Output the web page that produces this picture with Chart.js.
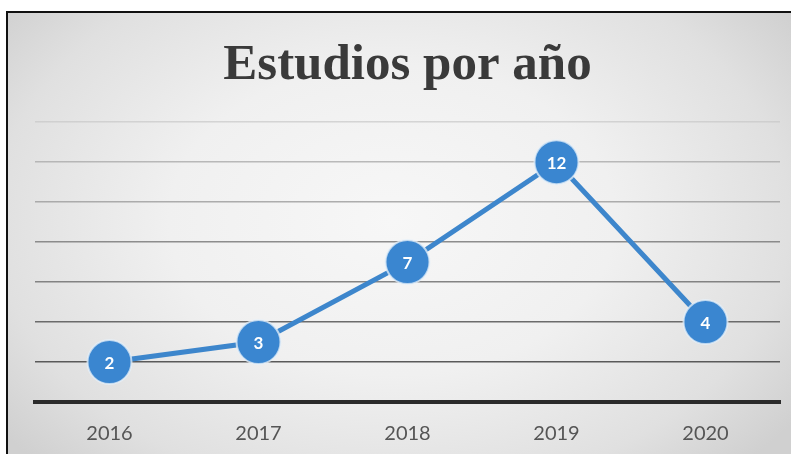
<!DOCTYPE html>
<html>
<head>
<meta charset="utf-8">
<script src="https://cdn.jsdelivr.net/npm/chart.js@4"></script>
<style>
  html, body { margin: 0; padding: 0; background: #fff; }
  #wrap {
    position: relative;
    width: 791px;
    height: 454px;
    overflow: hidden;
    background: #fff;
  }
  #frame {
    position: absolute;
    left: 6px;
    top: 11px;
    width: 800px;
    height: 460px;
    border-left: 2px solid #111;
    border-top: 2px solid #111;
    background: radial-gradient(ellipse 62% 75% at 48% 45%, #f7f7f7 0%, #f0f0f0 45%, #e0e0e0 80%, #d0d0d0 100%);
  }
  canvas { position: absolute; left: 0; top: 0; }
</style>
</head>
<body>
<div id="wrap">
  <div id="frame"></div>
  <canvas id="estudiosChart" width="791" height="454"></canvas>
</div>
<script>
const years = ['2016', '2017', '2018', '2019', '2020'];
const studies = [2, 3, 7, 12, 4];
const yMax = 14;
const yStep = 2;

// grid lines fade toward the top of the plot
const gridShade = {
  14: 'rgba(200,200,200,0.7)',
  12: 'rgba(170,170,170,0.8)',
  10: 'rgba(160,160,160,0.85)',
  8: 'rgba(130,130,130,0.9)',
  6: 'rgba(120,120,120,0.9)',
  4: 'rgba(100,100,100,0.95)',
  2: 'rgba(90,90,90,1)',
  0: 'rgba(0,0,0,0)'
};

// write each value inside its marker
const pointValues = {
  id: 'pointValues',
  afterDatasetsDraw(chart) {
    const ctx = chart.ctx;
    const meta = chart.getDatasetMeta(0);
    ctx.save();
    ctx.fillStyle = '#ffffff';
    ctx.font = 'bold 17px Lato';
    ctx.textAlign = 'center';
    ctx.textBaseline = 'middle';
    meta.data.forEach((pt, i) => {
      ctx.fillText(String(chart.data.datasets[0].data[i]), pt.x, pt.y + 1);
    });
    ctx.restore();
  }
};

const ctx = document.getElementById('estudiosChart').getContext('2d');
new Chart(ctx, {
  type: 'line',
  data: {
    labels: years,
    datasets: [{
      label: 'Estudios',
      data: studies,
      borderColor: '#3d86cc',
      borderWidth: 5,
      backgroundColor: '#3a86d0',
      pointBackgroundColor: '#3a86d0',
      pointBorderColor: 'rgba(230,240,250,0.75)',
      pointBorderWidth: 2,
      pointRadius: 22,
      pointHoverRadius: 22,
      tension: 0,
      clip: false
    }]
  },
  options: {
    responsive: false,
    animation: false,
    layout: {
      autoPadding: false,
      padding: { left: 35, right: 11, top: 0, bottom: 0 }
    },
    plugins: {
      legend: { display: false },
      tooltip: { enabled: false },
      title: {
        display: true,
        text: 'Estudios por año',
        color: '#3a3a3a',
        font: { family: 'Liberation Serif', size: 51, weight: 'bold', lineHeight: 1.2 },
        padding: { top: 35, bottom: 26 }
      }
    },
    scales: {
      x: {
        offset: true,
        grid: { display: false, drawTicks: false },
        border: { display: true, color: '#2b2b2b', width: 4 },
        ticks: {
          color: '#555555',
          font: { family: 'Lato', size: 20 },
          padding: 20
        },
        afterFit(axis) { axis.height = 52; }
      },
      y: {
        min: 0,
        max: yMax,
        ticks: { display: false, stepSize: yStep },
        border: { display: false },
        grid: {
          drawTicks: false,
          lineWidth: 1.5,
          color: (c) => gridShade[c.tick.value] || 'rgba(120,120,120,0.9)'
        },
        afterFit(axis) { axis.width = 0; }
      }
    }
  },
  plugins: [pointValues]
});
</script>
</body>
</html>
